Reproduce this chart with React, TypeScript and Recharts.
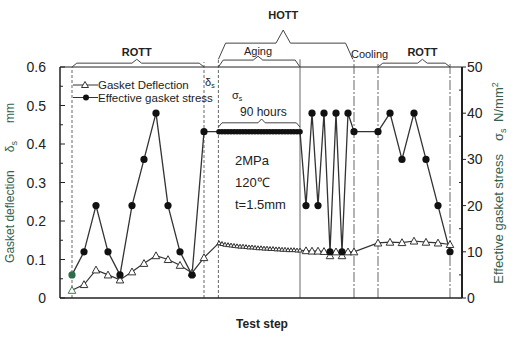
import React from 'react';
import { LineChart, Line, XAxis, YAxis, ReferenceLine, ReferenceDot, Legend, Customized } from 'recharts';

// ROTT before aging
const rottSteps = [1, 2, 3, 4, 5, 6, 7, 8, 9, 10, 11, 12];
const rottDeflection = [0.02, 0.035, 0.073, 0.06, 0.047, 0.068, 0.09, 0.11, 0.1, 0.085, 0.065, 0.105];
const rottStress = [5, 10, 20, 10, 5, 20, 30, 40, 20, 10, 5, 36];

// HOTT aging, 90 hours
const agingSteps = [13.25, 13.5, 13.75, 14, 14.25, 14.5, 14.75, 15, 15.25, 15.5, 15.75, 16, 16.25, 16.5, 16.75, 17, 17.25, 17.5, 17.75, 18, 18.25, 18.5, 18.75, 19, 19.25, 19.5, 19.75, 20];
const agingDeflection = [0.143, 0.141, 0.139, 0.138, 0.137, 0.136, 0.135, 0.134, 0.134, 0.133, 0.132, 0.132, 0.131, 0.13, 0.13, 0.129, 0.129, 0.128, 0.128, 0.127, 0.127, 0.126, 0.126, 0.125, 0.125, 0.125, 0.124, 0.124];
const agingStress = [36, 36, 36, 36, 36, 36, 36, 36, 36, 36, 36, 36, 36, 36, 36, 36, 36, 36, 36, 36, 36, 36, 36, 36, 36, 36, 36, 36];

// HOTT load cycles
const cycleSteps = [20.5, 21, 21.5, 22, 22.5, 23, 23.5, 24, 24.5];
const cycleDeflection = [0.123, 0.122, 0.122, 0.121, 0.11, 0.12, 0.11, 0.12, 0.12];
const cycleStress = [20, 40, 20, 40, 10, 40, 10, 40, 36];

// after cooling, ROTT
const finalSteps = [26.5, 27.5, 28.5, 29.5, 30.5, 31.5, 32.5];
const finalDeflection = [0.143, 0.145, 0.144, 0.148, 0.145, 0.143, 0.139];
const finalStress = [36, 40, 30, 40, 30, 20, 10];

const leftTicks = [0, 0.05, 0.1, 0.15, 0.2, 0.25, 0.3, 0.35, 0.4, 0.45, 0.5, 0.55, 0.6];
const rightTicks = [0, 5, 10, 15, 20, 25, 30, 35, 40, 45, 50];

const steps = [...rottSteps, ...agingSteps, ...cycleSteps, ...finalSteps];
const deflection = [...rottDeflection, ...agingDeflection, ...cycleDeflection, ...finalDeflection];
const stress = [...rottStress, ...agingStress, ...cycleStress, ...finalStress];
const chartData = steps.map((step, i) => ({ step, deflection: deflection[i], stress: stress[i] }));

const FONT = '"Liberation Sans", Arial, sans-serif';
const INK = '#222';
const GREEN = '#35614a';

const inAging = (s: number) => s > 13 && s < 20.1;

const TriangleDot = (props: any) => {
  const { cx, cy, index, payload } = props;
  const s = inAging(payload.step) ? 2.2 : 3.8;
  const c = index === 0 ? '#3f7a5a' : '#333';
  return (
    <polygon
      key={'t' + index}
      points={`${cx},${cy - s} ${cx - s},${cy + s * 0.8} ${cx + s},${cy + s * 0.8}`}
      fill="#fff"
      stroke={c}
      strokeWidth={1}
    />
  );
};

const CircleDot = (props: any) => {
  const { cx, cy, index, payload } = props;
  const r = inAging(payload.step) ? 2.8 : 3.6;
  return <circle key={'c' + index} cx={cx} cy={cy} r={r} fill={index === 0 ? '#2f6a4a' : '#111'} />;
};

const LeftTick = ({ x, y, payload }: any) => {
  const v = payload.value;
  const major = Math.abs(v * 10 - Math.round(v * 10)) < 1e-6;
  const ax = x + 14;
  return (
    <g>
      <line x1={ax} x2={ax + (major ? 5 : 3)} y1={y} y2={y} stroke={INK} />
      {major && (
        <text x={x} y={y} dy={5} textAnchor="end" fontSize={14} fontFamily={FONT} fill={INK}>
          {v === 0 ? '0' : v.toFixed(1)}
        </text>
      )}
    </g>
  );
};

const RightTick = ({ x, y, payload }: any) => {
  const v = payload.value;
  const major = v % 10 === 0;
  const ax = x - 5;
  return (
    <g>
      {major ? (
        <line x1={ax} x2={ax + 4} y1={y} y2={y} stroke={INK} />
      ) : (
        <line x1={ax} x2={ax - 3} y1={y} y2={y} stroke={INK} />
      )}
      {major && (
        <text x={x} y={y} dy={5} textAnchor="start" fontSize={14} fontFamily={FONT} fill={INK}>
          {v}
        </text>
      )}
    </g>
  );
};

const renderLegend = () => (
  <svg width={170} height={26} style={{ display: 'block' }}>
    <line x1={3} x2={28} y1={7} y2={7} stroke="#333" />
    <polygon points="15,3.5 11.5,9.5 18.5,9.5" fill="#fff" stroke="#333" />
    <text x={28} y={11} fontSize={11.5} fontFamily={FONT} fill={INK}>Gasket Deflection</text>
    <line x1={3} x2={28} y1={19.5} y2={19.5} stroke="#333" />
    <circle cx={16} cy={19.5} r={3} fill="#111" />
    <text x={28} y={23.5} fontSize={11.5} fontFamily={FONT} fill={INK}>Effective gasket stress</text>
  </svg>
);

const StaticText = () => (
  <g fontFamily={FONT}>
    <text transform="rotate(-90 14 183)" x={14} y={183} textAnchor="middle" fontSize={12} fill={GREEN}>
      Gasket deflection{'\u2003\u2002'}δ<tspan fontSize={9} dy={3}>s</tspan>
      <tspan dy={-3}>{'\u2003\u2002'}mm</tspan>
    </text>
    <text transform="rotate(-90 503 183)" x={503} y={183} textAnchor="middle" fontSize={13} fill={GREEN}>
      Effective gasket stress{'\u2003'}σ<tspan fontSize={9} dy={3}>s</tspan>
      <tspan dy={-3}>{'\u2002'}N/mm</tspan>
      <tspan fontSize={9} dy={-5}>2</tspan>
    </text>
    <text x={262} y={328} textAnchor="middle" fontSize={12} fontWeight={700} fill={INK}>Test step</text>
    <text x={205} y={86} fontSize={11} fill={INK}>
      δ<tspan fontSize={7} dy={2}>s</tspan>
    </text>
    <text x={232} y={99} fontSize={11} fill={INK}>
      σ<tspan fontSize={7} dy={2}>s</tspan>
    </text>
    <text x={240} y={116} fontSize={12} fill={INK}>90 hours</text>
    <text x={235} y={165} fontSize={13} fill={INK}>2MPa</text>
    <text x={235} y={187} fontSize={13} fill={INK}>120℃</text>
    <text x={235} y={209} fontSize={13} fill={INK}>t=1.5mm</text>
  </g>
);

// curly brace built from straight segments on the chart scales
function brace(key: string, x1: number, x2: number, xm: number, yBar: number, yEnd: number, yPeak: number, dx: number) {
  const pts = [[x1, yEnd], [x1 + dx, yBar], [xm - dx, yBar], [xm, yPeak], [xm + dx, yBar], [x2 - dx, yBar], [x2, yEnd]];
  return pts.slice(1).map((p, i) => (
    <ReferenceLine
      key={key + i}
      yAxisId="l"
      ifOverflow="visible"
      stroke="#444"
      strokeWidth={1}
      segment={[{ x: pts[i][0], y: pts[i][1] }, { x: p[0], y: p[1] }]}
    />
  ));
}

function vline(key: string, x: number, top: number, dash?: string) {
  return (
    <ReferenceLine
      key={key}
      yAxisId="l"
      ifOverflow="visible"
      stroke="#555"
      strokeWidth={0.9}
      strokeDasharray={dash}
      segment={[{ x, y: 0 }, { x, y: top }]}
    />
  );
}

function tag(key: string, x: number, y: number, text: string, bold = false) {
  return (
    <ReferenceDot
      key={key}
      yAxisId="l"
      x={x}
      y={y}
      r={0}
      ifOverflow="visible"
      label={{ value: text, position: 'center', fontSize: 11, fontWeight: bold ? 700 : 400, fill: INK, fontFamily: FONT }}
    />
  );
}

export default function App() {
  return (
    <div style={{ position: 'absolute', left: 0, top: 0, width: 516, height: 338, background: '#fff' }}>
      <LineChart width={516} height={338} data={chartData} margin={{ top: 67, right: 0, bottom: 10, left: 0 }}>
        <XAxis
          dataKey="step"
          type="number"
          domain={[0, 33.5]}
          tick={false}
          tickLine={false}
          height={30}
          axisLine={{ stroke: INK, strokeWidth: 1.5 }}
        />
        <YAxis
          yAxisId="l"
          orientation="left"
          width={60}
          domain={[0, 0.6]}
          ticks={leftTicks}
          interval={0}
          tickSize={0}
          tickMargin={14}
          tickLine={false}
          tick={<LeftTick />}
          axisLine={{ stroke: INK, strokeWidth: 1.5 }}
        />
        <YAxis
          yAxisId="r"
          orientation="right"
          width={54}
          domain={[0, 50]}
          ticks={rightTicks}
          interval={0}
          tickSize={0}
          tickMargin={5}
          tickLine={false}
          tick={<RightTick />}
          axisLine={{ stroke: INK, strokeWidth: 2 }}
        />
        <ReferenceLine yAxisId="l" y={0.6} stroke={INK} strokeWidth={1} />

        {vline('v1', 1, 0.6, '3 2')}
        {vline('v2', 12, 0.613, '3 2')}
        {vline('v3', 13.2, 0.62, '3 2')}
        {vline('v4', 20, 0.62)}
        {vline('v5', 24.5, 0.62, '10 2 2 2')}
        {vline('v6', 26.5, 0.613, '10 2 2 2')}
        {vline('v7', 32.5, 0.613, '10 2 2 2')}

        {brace('bR1', 1, 12, 6.4, 0.61, 0.6, 0.62, 0.4)}
        {brace('bAg', 13.2, 20, 16.5, 0.618, 0.6, 0.628, 0.4)}
        {brace('bHo', 13.2, 24.4, 18.6, 0.662, 0.62, 0.696, 0.6)}
        {brace('bR2', 26.5, 32.5, 30.2, 0.61, 0.6, 0.62, 0.4)}
        {brace('b90', 13.2, 20, 16.8, 0.455, 0.444, 0.465, 0.3)}

        {tag('tR1', 6.4, 0.638, 'ROTT', true)}
        {tag('tAg', 16.5, 0.641, 'Aging')}
        {tag('tHo', 18.6, 0.735, 'HOTT', true)}
        {tag('tCo', 25.8, 0.633, 'Cooling')}
        {tag('tR2', 30.2, 0.638, 'ROTT', true)}

        <Line
          yAxisId="l"
          dataKey="deflection"
          stroke="#333"
          strokeWidth={1.2}
          dot={TriangleDot}
          activeDot={false}
          isAnimationActive={false}
        />
        <Line
          yAxisId="r"
          dataKey="stress"
          stroke="#333"
          strokeWidth={1.3}
          dot={CircleDot}
          activeDot={false}
          isAnimationActive={false}
        />
        <Customized component={StaticText} />
        <Legend
          layout="vertical"
          align="center"
          verticalAlign="middle"
          content={renderLegend}
          wrapperStyle={{ left: 70, top: 78, width: 170, height: 26 }}
        />
      </LineChart>
    </div>
  );
}
